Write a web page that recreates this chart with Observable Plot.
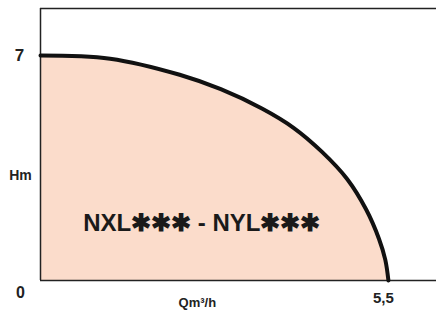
<!DOCTYPE html>
<html>
<head>
<meta charset="utf-8">
<script src="https://cdn.jsdelivr.net/npm/d3@7"></script>
<script src="https://cdn.jsdelivr.net/npm/@observablehq/plot@0.6"></script>
<style>
  html, body { margin: 0; padding: 0; background: #fff; }
  #chart svg { display: block; }
</style>
</head>
<body>
<div id="chart"></div>
<script>
// Flow (Qm³/h) and head (Hm)
const flow = [0, 1.1, 2.2, 2.85, 3.5, 4.0, 4.45, 4.85, 5.15, 5.35, 5.45, 5.5];
const head = [7, 6.9, 6.4, 5.95, 5.35, 4.75, 4.0, 3.15, 2.2, 1.3, 0.65, 0];

const yTopLabel = ["7"];
const yTopValue = 7;
const yBottomLabel = ["0"];
const xTickLabel = ["5,5"];
const xTickValue = 5.5;
const title = "NXL✱✱✱ - NYL✱✱✱";
const xLabel = "Qm³/h";
const yLabel = "Hm";

const curve = flow.map((q, i) => ({q, h: head[i]}));
const xMax = 6.26, yMax = 8.46;
const font = "Liberation Sans, Arial, sans-serif";

const chart = Plot.plot({
  width: 436,
  height: 311,
  marginLeft: 40,
  marginRight: 0,
  marginTop: 8,
  marginBottom: 31,
  style: {fontFamily: font, background: "#fff", overflow: "visible"},
  x: {domain: [0, xMax], axis: null},
  y: {domain: [0, yMax], axis: null},
  marks: [
    Plot.areaY(curve, {x: "q", y: "h", fill: "#fbdccb", curve: "catmull-rom"}),
    Plot.ruleY([0], {stroke: "#222", strokeWidth: 1.5}),
    Plot.ruleY([yMax], {stroke: "#222", strokeWidth: 1.5}),
    Plot.ruleX([0], {stroke: "#222", strokeWidth: 1.5}),
    Plot.line(curve, {x: "q", y: "h", stroke: "#111", strokeWidth: 4, curve: "catmull-rom"}),
    Plot.text(yTopLabel, {x: () => 0, y: () => yTopValue, text: d => d, dx: -21,
      textAnchor: "middle", fontSize: 17, fontWeight: "bold", fill: "#222"}),
    Plot.text(yBottomLabel, {x: () => 0, y: () => 0, text: d => d, dx: -20, dy: 12,
      textAnchor: "middle", fontSize: 16, fontWeight: "bold", fill: "#222"}),
    Plot.text(xTickLabel, {x: () => xTickValue, y: () => 0, text: d => d, dx: -5, dy: 18,
      textAnchor: "middle", fontSize: 15, fontWeight: "bold", fill: "#222"}),
    Plot.text([xLabel], {x: () => 2.48, y: () => 0, text: d => d, dy: 22, textAnchor: "middle",
      fontSize: 13, fontWeight: "bold", fill: "#222"}),
    Plot.text([yLabel], {x: () => 0, y: () => 3.25, text: d => d, dx: -20, textAnchor: "middle",
      fontSize: 14, fontWeight: "bold", fill: "#222"}),
    Plot.text([title], {x: () => 2.55, y: () => 1.77, text: d => d, textAnchor: "middle",
      fontSize: 24, fontWeight: "bold", fill: "#1a1a1a"})
  ]
});
document.getElementById("chart").appendChild(chart);
</script>
</body>
</html>
